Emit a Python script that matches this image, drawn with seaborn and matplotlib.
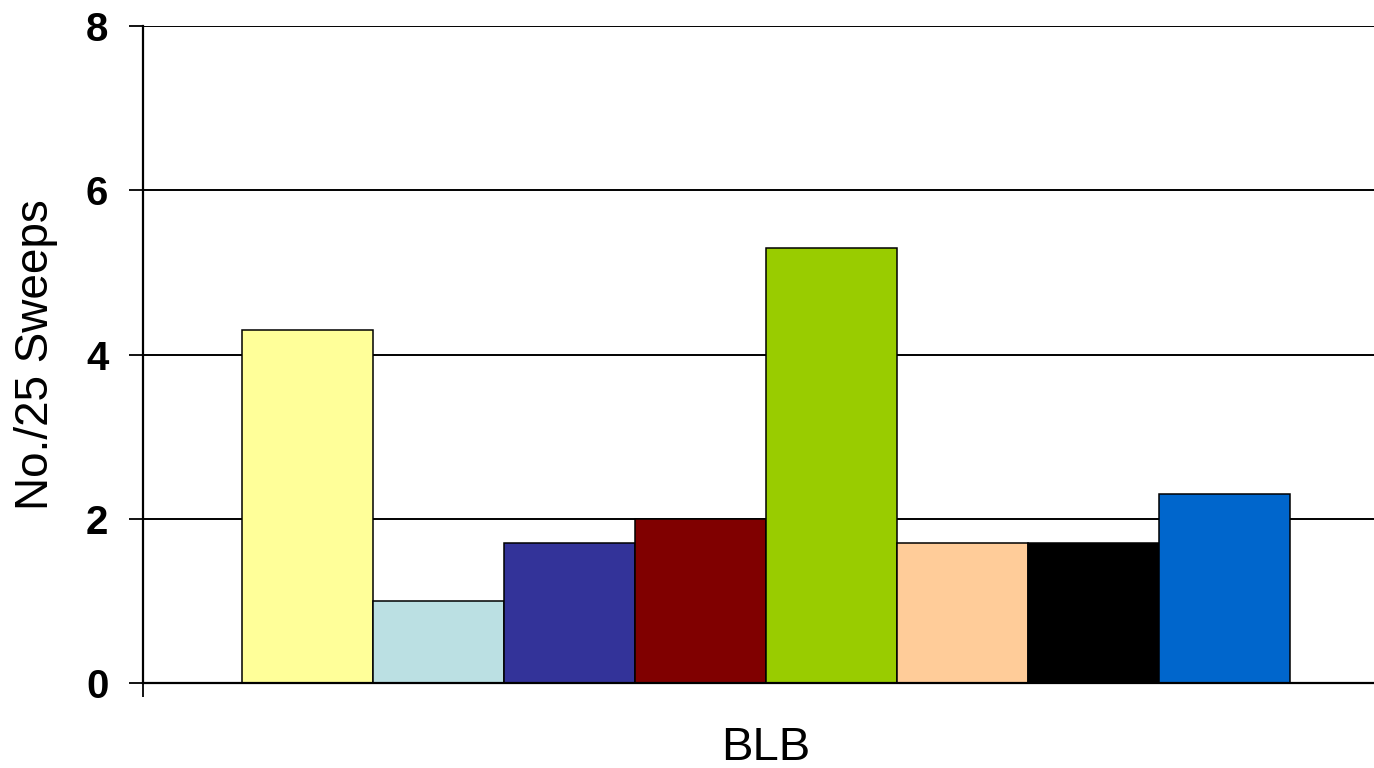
import pandas as pd
import matplotlib.pyplot as plt
import seaborn as sns

# data
category = ["BLB"]
series = ["S1", "S2", "S3", "S4", "S5", "S6", "S7", "S8"]
values = [4.3, 1.0, 1.7, 2.0, 5.3, 1.7, 1.7, 2.3]
colors = ["#FFFF99", "#BBE0E3", "#333399", "#800000",
          "#99CC00", "#FFCC99", "#000000", "#0066CC"]
y_ticks = [0, 2, 4, 6, 8]

df = pd.DataFrame({"group": category * len(series), "series": series, "value": values})

sns.set_style("white")
plt.rcParams['font.family'] = ['Liberation Sans', 'DejaVu Sans']
plt.rcParams['text.color'] = 'black'
plt.rcParams['axes.labelcolor'] = 'black'
plt.rcParams['xtick.color'] = 'black'
plt.rcParams['ytick.color'] = 'black'

fig = plt.figure(figsize=(13.74, 7.68), dpi=100)
ax = fig.add_axes([0.1041, 0.1107, 0.8959, 0.8554])

sns.barplot(data=df, x="group", y="value", hue="series", palette=colors,
            saturation=1, width=0.8, edgecolor="black", linewidth=1.1,
            legend=False, ax=ax)

ax.set_xlim(-0.4756, 0.464)
ax.set_ylim(0, 8)
ax.set_yticks(y_ticks)
ax.set_yticklabels([str(t) for t in y_ticks], fontsize=29, fontweight="bold")
ax.yaxis.grid(True, color="black", linewidth=1.4)
ax.set_axisbelow(True)

ax.tick_params(axis="y", direction="out", length=10, width=1.3, color="black",
               labelcolor="black", pad=15, left=True)
ax.tick_params(axis="x", which="major", length=0, labelsize=34, pad=31, labelcolor="black")
ax.set_xticks([-0.4756], minor=True)
ax.tick_params(axis="x", which="minor", direction="out", length=10, width=1.3,
               color="black", bottom=True)

ax.set_xlabel("")
ax.set_ylabel("No./25 Sweeps", fontsize=33, labelpad=20, color="black")

for side in ["top", "right"]:
    ax.spines[side].set_visible(False)
for side in ["left", "bottom"]:
    ax.spines[side].set_color("black")
    ax.spines[side].set_linewidth(1.6)

fig.savefig("out.png", dpi=100)
